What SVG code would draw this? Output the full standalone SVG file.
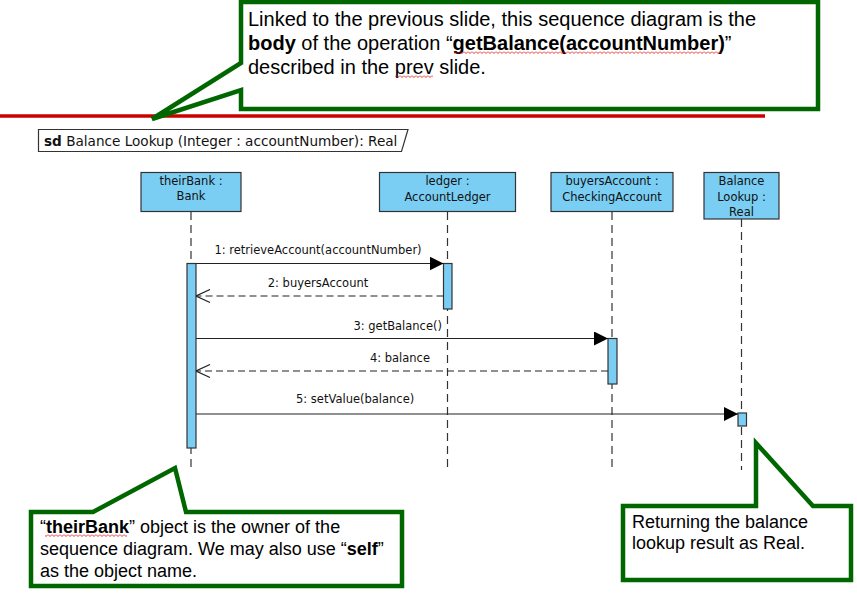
<svg xmlns="http://www.w3.org/2000/svg" width="857" height="599" viewBox="0 0 857 599">
<style>
.uml{font-family:"DejaVu Sans","Liberation Sans",sans-serif;font-size:11.5px;fill:#111}
.note{font-family:"Liberation Sans",Arial,sans-serif;fill:#000}
.box{fill:#7ACEF4;stroke:#333;stroke-width:1.2}
.life{stroke:#333;stroke-width:1.2;stroke-dasharray:8 5;fill:none}
.msg{stroke:#222;stroke-width:1.2;fill:none}
.ret{stroke:#222;stroke-width:1.2;fill:none;stroke-dasharray:7 4}
.callout{fill:#fff;stroke:#006700;stroke-width:4.5;stroke-linejoin:miter}
.b{font-weight:bold}
</style>
<defs>
<marker id="filled" viewBox="0 0 14 14" refX="14" refY="7" markerWidth="14" markerHeight="14" markerUnits="userSpaceOnUse" orient="auto"><path d="M0,0 L14,7 L0,14 Z" fill="#000"/></marker>
<marker id="open" viewBox="0 0 15 15" refX="14.5" refY="7.5" markerWidth="15" markerHeight="15" markerUnits="userSpaceOnUse" orient="auto"><path d="M0.5,1 L14.5,7.5 L0.5,14" fill="none" stroke="#222" stroke-width="1.2"/></marker>
<pattern id="wavy" patternUnits="userSpaceOnUse" width="4" height="3"><path d="M0,0.5 L2,2.5 L4,0.5" fill="none" stroke="#e00000" stroke-width="0.8"/></pattern>
</defs>
<rect width="857" height="599" fill="#fff"/>

<line x1="0" y1="116" x2="765" y2="116" stroke="#cc0000" stroke-width="3.5"/>

<g id="frame">
<path d="M38.5,129.5 H408 L401.5,151.5 H38.5 Z" fill="#fff" stroke="#333" stroke-width="1.2"/>
<text class="uml" x="44" y="146" style="font-size:13.6px"><tspan class="b">sd</tspan> Balance Lookup (Integer : accountNumber): Real</text>
</g>

<g id="lifelines">
<line class="life" x1="191" y1="212" x2="191" y2="470"/>
<line class="life" x1="447.5" y1="212" x2="447.5" y2="470"/>
<line class="life" x1="612" y1="212" x2="612" y2="470"/>
<line class="life" x1="741.5" y1="219" x2="741.5" y2="470"/>
</g>

<g id="theirBank">
<rect class="box" x="141" y="172.5" width="100" height="39"/>
<text class="uml" x="191" y="185" text-anchor="middle">theirBank :</text>
<text class="uml" x="191" y="200" text-anchor="middle">Bank</text>
<rect class="box" x="187" y="263.5" width="9" height="184.5"/>
</g>

<g id="ledger">
<rect class="box" x="379.5" y="172.5" width="136" height="39"/>
<text class="uml" x="447.5" y="185" text-anchor="middle">ledger :</text>
<text class="uml" x="447.5" y="201" text-anchor="middle">AccountLedger</text>
<rect class="box" x="443.5" y="263.5" width="8.5" height="45.5"/>
</g>

<g id="buyersAccount">
<rect class="box" x="551" y="172.5" width="122" height="39"/>
<text class="uml" x="612" y="185" text-anchor="middle">buyersAccount :</text>
<text class="uml" x="612" y="201" text-anchor="middle">CheckingAccount</text>
<rect class="box" x="608" y="338.5" width="9" height="45.5"/>
</g>

<g id="balanceLookup">
<rect class="box" x="704" y="172.5" width="75" height="46.5"/>
<text class="uml" x="741.5" y="185" text-anchor="middle">Balance</text>
<text class="uml" x="741.5" y="200.5" text-anchor="middle">Lookup :</text>
<text class="uml" x="741.5" y="216" text-anchor="middle">Real</text>
<rect class="box" x="738" y="413" width="8.5" height="13"/>
</g>

<g id="connectors">
<line class="msg" x1="196" y1="263.5" x2="443.5" y2="263.5" marker-end="url(#filled)"/>
<text class="uml" x="318" y="254" text-anchor="middle">1: retrieveAccount(accountNumber)</text>
<line class="ret" x1="443.5" y1="296" x2="196" y2="296" marker-end="url(#open)"/>
<text class="uml" x="318" y="287" text-anchor="middle">2: buyersAccount</text>
<line class="msg" x1="196" y1="338.5" x2="608" y2="338.5" marker-end="url(#filled)"/>
<text class="uml" x="442" y="330" text-anchor="end">3: getBalance()</text>
<line class="ret" x1="608" y1="371" x2="196" y2="371" marker-end="url(#open)"/>
<text class="uml" x="430" y="362" text-anchor="end">4: balance</text>
<line class="msg" x1="196" y1="414" x2="738" y2="414" marker-end="url(#filled)"/>
<text class="uml" x="296" y="403">5: setValue(balance)</text>
</g>

<g id="noteTop">
<path class="callout" d="M241,2 H818 V109 H241 V90 L152,119 L241,63 Z"/>
<text class="note" x="248" y="26" font-size="20">Linked to the previous slide, this sequence diagram is the</text>
<text class="note" x="248" y="50" font-size="20"><tspan class="b">body</tspan> of the operation “<tspan class="b">getBalance(accountNumber)</tspan>”</text>
<text class="note" x="248" y="74" font-size="20">described in the prev slide.</text>
<rect x="454" y="51" width="268" height="3" fill="url(#wavy)"/>
<rect x="395" y="75" width="38" height="3" fill="url(#wavy)"/>
</g>

<g id="noteOwner">
<path class="callout" d="M31,512 H93 L175,468 L186,512 H402 V586 H31 Z"/>
<text class="note" x="40" y="533" font-size="18">“<tspan class="b">theirBank</tspan>” object is the owner of the</text>
<text class="note" x="40" y="555" font-size="18">sequence diagram. We may also use “<tspan class="b">self</tspan>”</text>
<text class="note" x="40" y="577" font-size="18">as the object name.</text>
<rect x="45" y="534" width="82" height="3" fill="url(#wavy)"/>
</g>

<g id="noteReturn">
<path class="callout" d="M623,506 H756 V443 L813,506 H851 V580 H623 Z"/>
<text class="note" x="632" y="528" font-size="18">Returning the balance</text>
<text class="note" x="632" y="549" font-size="18">lookup result as Real.</text>
</g>
</svg>
